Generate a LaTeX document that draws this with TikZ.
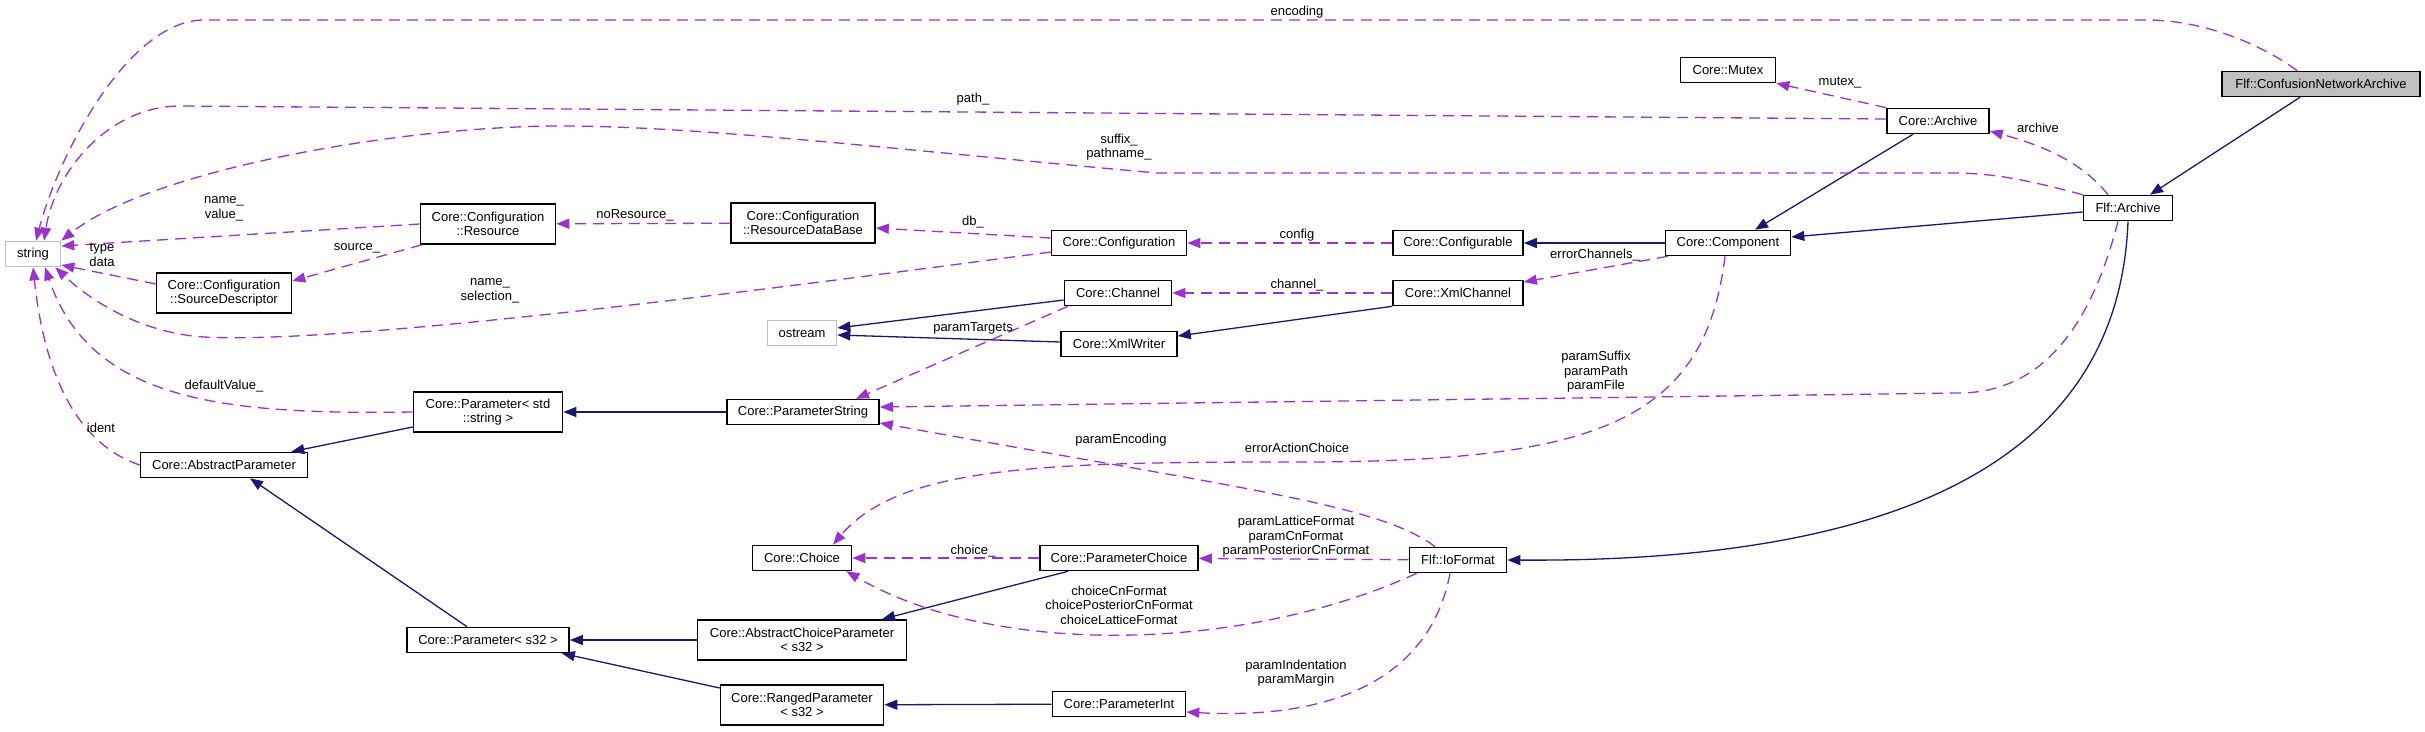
\documentclass[tikz,border=0pt]{standalone}
\usepackage{fontspec}
\setmainfont{Liberation Sans}
\usepackage{tikz}
\usepackage{xcolor}
\usetikzlibrary{arrows.meta,positioning}
\definecolor{DoxPurple}{HTML}{9A32CD}
\definecolor{DoxNavy}{HTML}{191970}
\definecolor{DoxGray}{HTML}{BFBFBF}
\tikzset{
  classbox/.style={draw=black,line width=1.6pt,fill=white,align=center,minimum height=25pt,inner xsep=4pt,inner ysep=2pt},
  tallbox/.style={classbox,minimum height=40pt},
  extbox/.style={classbox,draw=DoxGray},
  mainbox/.style={classbox,fill=DoxGray},
  usage/.style={draw=DoxPurple,line width=1.3pt,dash pattern=on 11pt off 7pt,-{Triangle[length=13pt,width=10pt]}},
  inherit/.style={draw=DoxNavy,line width=1.3pt,-{Triangle[length=13pt,width=10pt]}},
  lbl/.style={align=center,inner sep=0pt}
}

\begin{document}
\begin{tikzpicture}[x=1pt,y=-1pt,font=\fontsize{13}{14.6}\selectfont]
  \useasboundingbox[fill=white] (0,0) rectangle (2425,731);
  \node[extbox,minimum width=55pt] (string) at (33,254) {string};
  \node[tallbox,minimum width=135pt] (res) at (488,224) {Core::Configuration\\::Resource};
  \node[tallbox,minimum width=135pt] (srcdesc) at (224,293) {Core::Configuration\\::SourceDescriptor};
  \node[tallbox,minimum width=144pt] (resdb) at (803,223) {Core::Configuration\\::ResourceDataBase};
  \node[extbox,minimum width=69pt] (ostream) at (802,333) {ostream};
  \node[classbox,minimum width=135pt] (config) at (1119,243) {Core::Configuration};
  \node[classbox,minimum width=130pt] (configurable) at (1458,243) {Core::Configurable};
  \node[classbox,minimum width=107pt] (channel) at (1118,293) {Core::Channel};
  \node[classbox,minimum width=130pt] (xmlchannel) at (1458,293) {Core::XmlChannel};
  \node[classbox,minimum width=116pt] (xmlwriter) at (1119,344) {Core::XmlWriter};
  \node[classbox,minimum width=95pt] (mutex) at (1728,70) {Core::Mutex};
  \node[classbox,minimum width=102pt] (carchive) at (1938,121) {Core::Archive};
  \node[mainbox,minimum width=198pt] (cna) at (2321,84) {Flf::ConfusionNetworkArchive};
  \node[classbox,minimum width=89pt] (farchive) at (2128,208) {Flf::Archive};
  \node[classbox,minimum width=125pt] (component) at (1728,243) {Core::Component};
  \node[tallbox,minimum width=149pt] (pstdstring) at (488,412) {Core::Parameter< std\\::string >};
  \node[classbox,minimum width=167pt] (abstractparam) at (224,465) {Core::AbstractParameter};
  \node[classbox,minimum width=162pt] (ps32) at (488,640) {Core::Parameter< s32 >};
  \node[tallbox,minimum width=209pt] (acp) at (802,640) {Core::AbstractChoiceParameter\\< s32 >};
  \node[tallbox,minimum width=163pt] (ranged) at (802,705) {Core::RangedParameter\\< s32 >};
  \node[classbox,minimum width=152pt] (paramstring) at (803,412) {Core::ParameterString};
  \node[classbox,minimum width=99pt] (choice) at (802,558) {Core::Choice};
  \node[classbox,minimum width=158pt] (paramchoice) at (1119,558) {Core::ParameterChoice};
  \node[classbox,minimum width=97pt] (ioformat) at (1458,560) {Flf::IoFormat};
  \node[classbox,minimum width=133pt] (paramint) at (1119,704) {Core::ParameterInt};

  \draw[inherit] ([xshift=-21pt]cna.south) -- ([xshift=22pt]farchive.north);
  \draw[inherit] ([xshift=-25pt]carchive.south) -- ([xshift=27pt]component.north);
  \draw[inherit] ([yshift=-4pt]farchive.west) -- ([yshift=6pt]component.east);
  \draw[inherit] (component) -- (configurable);
  \draw[inherit] (farchive.south) .. controls (2120,430) and (1950,563) .. (ioformat.east);
  \draw[inherit] (xmlchannel.south west) -- ([yshift=8pt]xmlwriter.east);
  \draw[inherit] ([yshift=-7pt]channel.west) -- ([yshift=5pt]ostream.east);
  \draw[inherit] ([yshift=2pt]xmlwriter.west) -- ([yshift=-2pt]ostream.east);
  \draw[inherit] (paramstring) -- (pstdstring);
  \draw[inherit] ([yshift=-15pt]pstdstring.west) -- ([xshift=-17pt]abstractparam.north east);
  \draw[inherit] ([xshift=-21pt]ps32.north) -- ([xshift=26pt]abstractparam.south);
  \draw[inherit] (acp) -- (ps32);
  \draw[inherit] ([yshift=17pt]ranged.west) -- ([xshift=-8pt]ps32.south east);
  \draw[inherit] ([xshift=-51pt]paramchoice.south) -- ([xshift=80pt]acp.north);
  \draw[inherit] (paramint) -- (ranged);

  \draw[usage] ([xshift=-24pt]cna.north) .. controls (2270,50) and (2210,20) .. (2147,20) -- (204,20) .. controls (130,20) and (60,150) .. ([xshift=3pt]string.north);
  \draw[usage] (carchive.north west) -- (mutex.south east);
  \draw[usage] ([yshift=2pt]carchive.west) -- (180,106) .. controls (110,106) and (55,170) .. ([xshift=11pt]string.north);
  \draw[usage] (farchive.north west) .. controls (2020,178) and (1990,173) .. (1950,173) -- (1157,173) .. controls (900,150) and (700,126) .. (561,126) .. controls (400,126) and (150,170) .. (string.north east);
  \draw[usage] ([xshift=-20pt]farchive.north) .. controls (2080,160) and (2040,145) .. ([yshift=-10pt]carchive.east);
  \draw[usage] (res.west) -- ([yshift=8pt]string.east);
  \draw[usage] ([yshift=9pt]srcdesc.west) -- ([yshift=-11pt]string.east);
  \draw[usage] ([xshift=2pt]res.south west) -- ([yshift=12pt]srcdesc.east);
  \draw[usage] (resdb) -- (res);
  \draw[usage] ([yshift=5pt]config.west) -- ([yshift=-5pt]resdb.east);
  \draw[usage] ([yshift=-9pt]config.west) .. controls (800,285) and (350,345) .. (204,337) .. controls (140,333) and (90,300) .. ([xshift=-6pt]string.south east);
  \draw[usage] (configurable) -- (config);
  \draw[usage] ([xshift=3pt]component.south west) -- ([yshift=11pt]xmlchannel.east);
  \draw[usage] (xmlchannel) -- (channel);
  \draw[usage] ([xshift=-50pt]channel.south) -- ([xshift=53pt]paramstring.north);
  \draw[usage] ([xshift=-10pt]farchive.south) .. controls (2090,330) and (2040,393) .. (1958,393) -- ([yshift=5pt]paramstring.east);
  \draw[usage] ([xshift=-3pt]component.south) .. controls (1705,420) and (1600,462) .. (1300,462) .. controls (1050,462) and (900,465) .. ([xshift=31pt]choice.north);
  \draw[usage] ([xshift=-23pt]ioformat.north) .. controls (1380,505) and (1250,490) .. ([yshift=-11pt]paramstring.east);
  \draw[usage] (paramchoice) -- (choice);
  \draw[usage] (ioformat) -- (paramchoice);
  \draw[usage] ([xshift=8pt]ioformat.south west) .. controls (1250,650) and (1000,660) .. ([xshift=-6pt]choice.south east);
  \draw[usage] ([xshift=-8pt]ioformat.south) .. controls (1430,680) and (1330,720) .. ([yshift=-8pt]paramint.east);
  \draw[usage] (pstdstring.west) .. controls (220,415) and (90,400) .. ([xshift=12pt]string.south);
  \draw[usage] (abstractparam.west) .. controls (80,445) and (45,380) .. (string.south);

  \node[lbl] (l-encoding) at (1297,12) {encoding};
  \node[lbl] (l-mutex) at (1840,83) {mutex\_};
  \node[lbl] (l-path) at (973,99) {path\_};
  \node[lbl] (l-suffix) at (1119,147) {suffix\_\\pathname\_};
  \node[lbl] (l-archive) at (2038,128) {archive};
  \node[lbl] (l-namevalue) at (224,209) {name\_\\value\_};
  \node[lbl] (l-typedata) at (102,255) {type\\data};
  \node[lbl] (l-source) at (357,248) {source\_};
  \node[lbl] (l-noresource) at (635,215) {noResource\_};
  \node[lbl] (l-db) at (973,222) {db\_};
  \node[lbl] (l-nameselection) at (490,291) {name\_\\selection\_};
  \node[lbl] (l-config) at (1297,235) {config};
  \node[lbl] (l-errorchannels) at (1595,255) {errorChannels\_};
  \node[lbl] (l-channel) at (1297,285) {channel\_};
  \node[lbl] (l-paramtargets) at (973,328) {paramTargets};
  \node[lbl] (l-paramsuffix) at (1596,372) {paramSuffix\\paramPath\\paramFile};
  \node[lbl] (l-erroraction) at (1297,448) {errorActionChoice};
  \node[lbl] (l-paramencoding) at (1121,440) {paramEncoding};
  \node[lbl] (l-choice) at (973,551) {choice\_};
  \node[lbl] (l-paramformat) at (1296,537) {paramLatticeFormat\\paramCnFormat\\paramPosteriorCnFormat};
  \node[lbl] (l-choiceformat) at (1119,605) {choiceCnFormat\\choicePosteriorCnFormat\\choiceLatticeFormat};
  \node[lbl] (l-indent) at (1296,673) {paramIndentation\\paramMargin};
  \node[lbl] (l-defaultvalue) at (224,386) {defaultValue\_};
  \node[lbl] (l-ident) at (101,428) {ident};
\end{tikzpicture}
\end{document}
